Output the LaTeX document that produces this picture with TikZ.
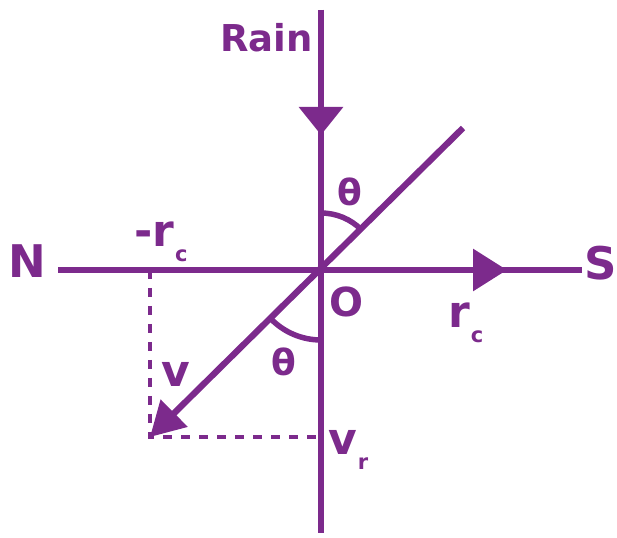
\documentclass[tikz,border=0pt]{standalone}
\usepackage{fontspec}
\setmainfont{DejaVu Sans}
\usetikzlibrary{arrows.meta}
\definecolor{pur}{RGB}{124,42,140}
\newcommand\lowsub[1]{\raisebox{-15pt}{\fontsize{21}{21}\selectfont #1}}
\begin{document}
\begin{tikzpicture}[x=1pt,y=1pt,
  axis/.style={draw=pur,line width=6.3pt},
  arcline/.style={draw=pur,line width=5.5pt},
  dashline/.style={draw=pur,line width=3.5pt,dash pattern=on 9pt off 9pt},
  lbl/.style={text=pur,inner sep=0pt,font=\bfseries\fontsize{44}{44}\selectfont},
  biglbl/.style={text=pur,inner sep=0pt,font=\bfseries\fontsize{45}{45}\selectfont},
  thlbl/.style={text=pur,inner sep=0pt,font=\bfseries\fontsize{36}{36}\selectfont}]
\useasboundingbox (0,0) rectangle (617,537);
% points
\coordinate (top) at (321,527);
\coordinate (bot) at (321,4);
\coordinate (raintip) at (321,402);
\coordinate (O) at (321,267);
\coordinate (west) at (58,267);
\coordinate (east) at (582,267);
\coordinate (stip) at (507,267);
\coordinate (ne) at (463,409);
\coordinate (vtip) at (150,100);
\coordinate (rcfoot) at (150,267);
\coordinate (vrfoot) at (321,100);
% dashed projections
\draw[dashline] (rcfoot) -- (vtip) -- (vrfoot);
% axes
\draw[axis] (top) -- (bot);
\draw[axis,-{Triangle[length=28pt,width=43pt]}] (top) -- (raintip);
\draw[axis] (west) -- (east);
\draw[axis,-{Triangle[length=34pt,width=41pt]}] (west) -- (stip);
\draw[axis,-{Triangle[length=34pt,width=37pt]}] (ne) -- (vtip);
% angle arcs
\draw[arcline] ([shift={(90:57)}]O) arc[start angle=90,end angle=45,radius=57];
\draw[arcline] ([shift={(225:70)}]O) arc[start angle=225,end angle=270,radius=70];
% labels
\node[text=pur,inner sep=0pt,font=\bfseries\fontsize{37}{37}\selectfont,anchor=base east] (rain) at (313,485) {Rain};
\node[biglbl] (N) at (27.5,275.5) {N};
\node[biglbl,anchor=east] (S) at (617,274) {S};
\node[thlbl] (th1) at (350,345.5) {θ};
\node[thlbl] (th2) at (283.5,175) {θ};
\node[text=pur,inner sep=0pt,font=\bfseries\fontsize{40}{40}\selectfont] (Olbl) at (346,235) {O};
\node[lbl,anchor=base west] (mrc) at (134,290) {-r\kern1pt\lowsub{c}};
\node[lbl,anchor=base west] (rc) at (448,209) {r\kern1pt\lowsub{c}};
\node[lbl,anchor=base west] (v) at (161,150) {v};
\node[lbl,anchor=base west] (vr) at (328,82) {v\kern1pt\lowsub{r}};
\end{tikzpicture}
\end{document}
